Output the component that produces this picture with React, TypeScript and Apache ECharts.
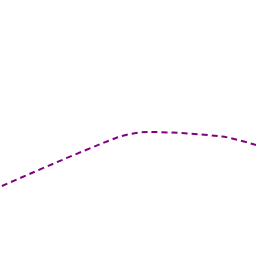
import React, { useEffect, useRef } from "react";
import * as echarts from "echarts";

const xValues = [0, 114, 145, 220, 254];
const yValues = [70, 118, 124, 119.5, 111];

export default function App() {
  const ref = useRef<HTMLDivElement>(null);
  useEffect(() => {
    const chart = echarts.init(ref.current!, null, { renderer: "svg" });
    chart.setOption({
      animation: false,
      grid: { left: 2, right: 0, top: 0, bottom: 0 },
      xAxis: { type: "value", min: 0, max: 254, show: false },
      yAxis: { type: "value", min: 0, max: 256, show: false },
      series: [
        {
          type: "line",
          data: xValues.map((x, i) => [x, yValues[i]]),
          smooth: 0.3,
          showSymbol: false,
          lineStyle: { color: "#800080", width: 2, type: [6, 4] },
        },
      ],
    });
    return () => chart.dispose();
  }, []);
  return (
    <div style={{ position: "fixed", left: 0, top: 0, width: 256, height: 256, background: "#fff" }}>
      <div ref={ref} style={{ width: 256, height: 256 }} />
    </div>
  );
}
